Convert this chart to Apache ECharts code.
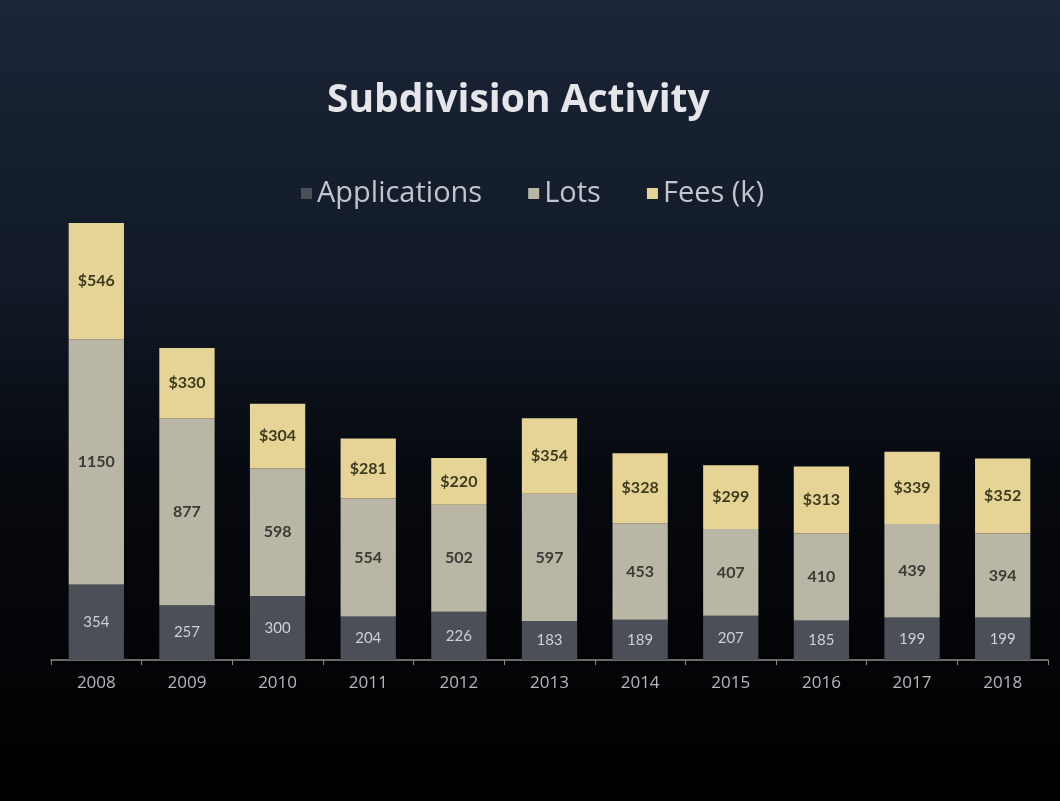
<!DOCTYPE html>
<html>
<head>
<meta charset="utf-8">
<script src="https://cdn.jsdelivr.net/npm/echarts@6/dist/echarts.min.js"></script>
<style>
html,body{margin:0;padding:0;background:#000;}
#c{width:1060px;height:801px;}
</style>
</head>
<body>
<div id="c"></div>
<script>
var years = ['2008','2009','2010','2011','2012','2013','2014','2015','2016','2017','2018'];
var applications = [354,257,300,204,226,183,189,207,185,199,199];
var lots = [1150,877,598,554,502,597,453,407,410,439,394];
var fees = [546,330,304,281,220,354,328,299,313,339,352];

var chart = echarts.init(document.getElementById('c'));
var font = '"Open Sans", Lato, "DejaVu Sans", sans-serif';
var lfont = 'Lato, "Open Sans", sans-serif';
chart.setOption({
  backgroundColor: {
    type: 'linear', x: 0, y: 0, x2: 0, y2: 1,
    colorStops: [
      {offset: 0, color: '#1a2538'},
      {offset: 0.35, color: '#121a27'},
      {offset: 0.6, color: '#06090e'},
      {offset: 1, color: '#000000'}
    ]
  },
  textStyle: {fontFamily: font},
  title: {
    text: 'Subdivision Activity',
    left: 322,
    top: 76,
    textStyle: {color: '#e6e6ea', fontSize: 39, fontWeight: 'bold', fontFamily: font}
  },
  legend: {
    top: 174,
    left: 296,
    itemWidth: 11,
    itemHeight: 11,
    itemGap: 46,
    icon: 'rect',
    textStyle: {color: '#c4c4cc', fontSize: 29, fontFamily: font},
    data: ['Applications','Lots','Fees (k)']
  },
  grid: {left: 51, right: 12, top: 191, bottom: 141},
  xAxis: {
    type: 'category',
    data: years,
    axisLine: {lineStyle: {color: '#8a8a8a', width: 1.5}},
    axisTick: {show: true, length: 5, lineStyle: {color: '#8a8a8a'}},
    axisLabel: {color: '#b8b8bc', fontSize: 17, margin: 15, fontFamily: font}
  },
  yAxis: {
    type: 'value', min: 0, max: 2200,
    show: false,
    splitLine: {show: false}
  },
  series: [
    {
      name: 'Applications', type: 'bar', stack: 'a', data: applications,
      barCategoryGap: '39%',
      itemStyle: {color: '#4b4f58'},
      label: {show: true, position: 'inside', color: '#cfcfd4', fontSize: 15, fontFamily: lfont}
    },
    {
      name: 'Lots', type: 'bar', stack: 'a', data: lots,
      itemStyle: {color: '#b9b6a6'},
      label: {show: true, position: 'inside', color: '#3a3a36', fontSize: 16, fontWeight: 'bold', fontFamily: lfont}
    },
    {
      name: 'Fees (k)', type: 'bar', stack: 'a', data: fees,
      itemStyle: {color: '#e6d497'},
      label: {show: true, position: 'inside', color: '#3d3b1e', fontSize: 16, fontWeight: 'bold', fontFamily: lfont,
        formatter: function(p){ return '$' + p.value; }}
    }
  ]
});
</script>
</body>
</html>
